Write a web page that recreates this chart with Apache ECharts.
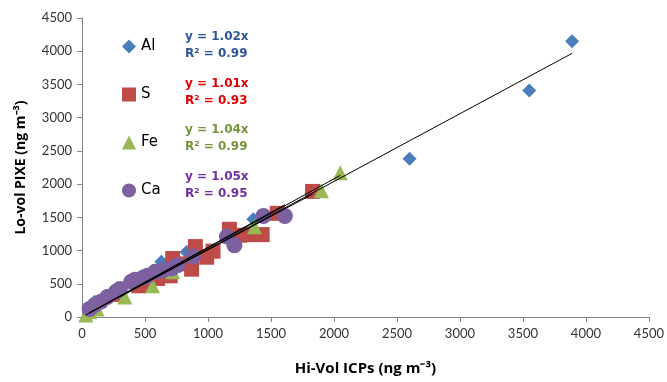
<!DOCTYPE html>
<html>
<head>
<meta charset="utf-8">
<script src="https://cdn.jsdelivr.net/npm/echarts@6/dist/echarts.min.js"></script>
<style>
  html, body { margin: 0; padding: 0; background: #fff; }
  #chart { width: 667px; height: 382px; }
</style>
</head>
<body>
<div id="chart"></div>
<script>
// Hi-Vol ICP (x) vs Lo-vol PIXE (y), ng m-3
var alData = [[60, 50], [100, 230], [200, 320], [300, 400], [450, 520], [630, 830], [830, 980], [1360, 1470], [2600, 2380], [3550, 3410], [3890, 4150]];
var sData = [[300, 340], [450, 470], [520, 480], [600, 580], [700, 620], [720, 880], [800, 800], [870, 720], [900, 1060], [990, 900], [1040, 990], [1170, 1320], [1250, 1230], [1350, 1240], [1430, 1240], [1550, 1560], [1830, 1890]];
var feData = [[30, 30], [60, 80], [120, 120], [340, 300], [560, 470], [720, 680], [1370, 1360], [1900, 1900], [2050, 2170]];
var caData = [[60, 120], [100, 180], [150, 230], [200, 300], [270, 380], [300, 420], [390, 530], [420, 560], [490, 600], [520, 620], [580, 680], [640, 700], [710, 730], [760, 780], [880, 910], [1150, 1210], [1210, 1080], [1440, 1520], [1610, 1520]];

var names = ['Al', 'S', 'Fe', 'Ca'];
var slopes = [1.02, 1.01, 1.04, 1.05];
var r2 = [0.99, 0.93, 0.99, 0.95];
var axisTicks = [0, 4500, 500];

var markerColors = ['#4A7EBB', '#BE4B48', '#98B954', '#7D60A0'];
var eqColors = ['#2F5597', '#E00000', '#77933C', '#7030A0'];
var symbols = ['diamond', 'rect', 'triangle', 'circle'];
var sizes = [14, 15, 15, 16];
var allData = [alData, sData, feData, caData];

// trendline through zero, spanning each series' x range
function trend(data, k) {
    var xs = data.map(function (d) { return d[0]; });
    var lo = Math.min.apply(null, xs), hi = Math.max.apply(null, xs);
    return [[lo, k * lo], [hi, k * hi]];
}

var series = [];
allData.forEach(function (d, i) {
    series.push({
        name: names[i],
        type: 'scatter',
        data: d,
        symbol: symbols[i],
        symbolSize: sizes[i],
        itemStyle: { color: markerColors[i], opacity: 1 },
        z: 2 + i
    });
});
allData.forEach(function (d, i) {
    series.push({
        name: names[i] + ' trend',
        type: 'line',
        data: trend(d, slopes[i]),
        symbol: 'none',
        lineStyle: { color: '#000', width: 1 },
        silent: true,
        z: 10
    });
});

var eqTop = [28, 75, 121, 168];
var graphics = [];
names.forEach(function (n, i) {
    graphics.push({
        type: 'text',
        left: 185,
        top: eqTop[i],
        style: {
            text: 'y = ' + slopes[i].toFixed(2) + 'x\nR² = ' + r2[i].toFixed(2),
            fill: eqColors[i],
            font: 'bold 12px "DejaVu Sans", sans-serif',
            lineHeight: 17
        }
    });
});

var chart = echarts.init(document.getElementById('chart'));
chart.setOption({
    animation: false,
    textStyle: { fontFamily: 'Lato, sans-serif' },
    grid: { left: 82, right: 18, top: 18, bottom: 65 },
    legend: {
        data: names,
        orient: 'vertical',
        left: 117,
        top: 34,
        itemGap: 33,
        itemWidth: 14,
        itemHeight: 14,
        textStyle: { fontSize: 15, color: '#000', fontFamily: '"DejaVu Sans", sans-serif' }
    },
    xAxis: {
        type: 'value',
        min: axisTicks[0], max: axisTicks[1], interval: axisTicks[2],
        name: 'Hi-Vol ICPs (ng m⁻³)',
        nameLocation: 'middle',
        nameGap: 44,
        nameTextStyle: { fontSize: 15, fontWeight: 'bold', color: '#000', fontFamily: '"Open Sans", sans-serif' },
        axisLine: { lineStyle: { color: '#868686' } },
        axisTick: { lineStyle: { color: '#868686' }, length: 5 },
        axisLabel: { fontSize: 13, color: '#333', margin: 10, formatter: function (v) { return String(v); } },
        splitLine: { show: false }
    },
    yAxis: {
        type: 'value',
        min: axisTicks[0], max: axisTicks[1], interval: axisTicks[2],
        name: 'Lo-vol PIXE (ng m⁻³)',
        nameLocation: 'middle',
        nameGap: 54,
        nameTextStyle: { fontSize: 14, fontWeight: 'bold', color: '#000', fontFamily: '"Open Sans", sans-serif' },
        axisLine: { show: true, lineStyle: { color: '#868686' } },
        axisTick: { show: true, lineStyle: { color: '#868686' }, length: 5 },
        axisLabel: { fontSize: 13, color: '#333', margin: 10, formatter: function (v) { return String(v); } },
        splitLine: { show: false }
    },
    graphic: graphics,
    series: series
});
</script>
</body>
</html>
